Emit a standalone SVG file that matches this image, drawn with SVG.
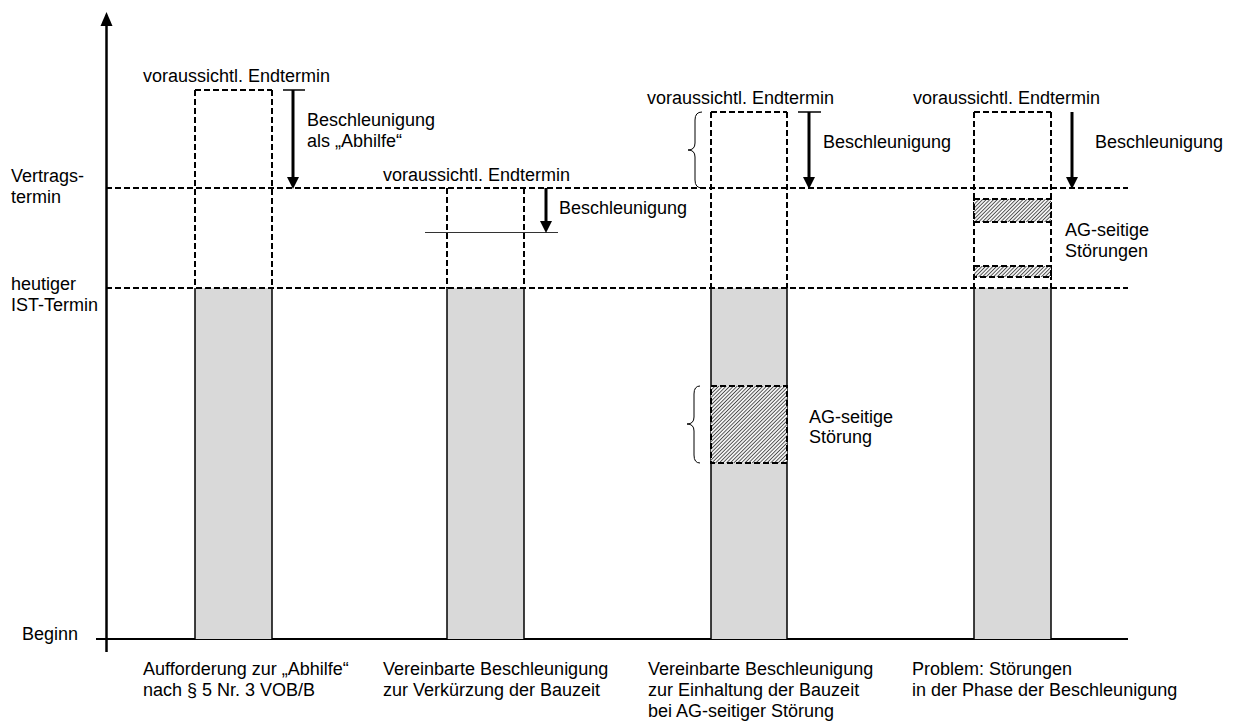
<svg xmlns="http://www.w3.org/2000/svg" width="1236" height="722" viewBox="0 0 1236 722">
<defs>
<pattern id="hatch" patternUnits="userSpaceOnUse" width="2.6" height="2.6" patternTransform="rotate(-45)">
<rect width="2.6" height="2.6" fill="#f2f2f2"/>
<line x1="0" y1="1.3" x2="2.6" y2="1.3" stroke="#4a4a4a" stroke-width="0.9"/>
</pattern>
</defs>
<style>
text{font-family:"Liberation Sans",Arial,sans-serif;font-size:18px;fill:#000}
.dash{stroke:#000;stroke-width:2;stroke-dasharray:6 3;fill:none}
.bar{fill:#d9d9d9;stroke:none}
.side{stroke:#000;stroke-width:1.5}
.arr{stroke:#000;stroke-width:3}
.head{fill:#000}
.tick{stroke:#000;stroke-width:1.5}
.brace{stroke:#000;stroke-width:1;fill:none}
.hat{fill:url(#hatch)}
</style>
<rect width="1236" height="722" fill="#fff"/>

<g id="axes">
<line x1="106.5" y1="652" x2="106.5" y2="24" stroke="#000" stroke-width="2.5"/>
<polygon points="106.5,12 100.5,26 112.5,26" fill="#000"/>
<line x1="96" y1="639" x2="1128" y2="639" stroke="#000" stroke-width="2"/>
<text x="11" y="182">Vertrags-</text>
<text x="11" y="203">termin</text>
<text x="11" y="290">heutiger</text>
<text x="11" y="311">IST-Termin</text>
<text x="22" y="640">Beginn</text>
</g>

<g id="col1">
<rect class="bar" x="195" y="288" width="77" height="351"/>
<line class="side" x1="195" y1="288" x2="195" y2="639"/>
<line class="side" x1="272" y1="288" x2="272" y2="639"/>
<line class="dash" x1="195" y1="90" x2="272" y2="90"/>
<line class="dash" x1="195" y1="90" x2="195" y2="288"/>
<line class="dash" x1="272" y1="90" x2="272" y2="288"/>
<text x="143" y="82">voraussichtl. Endtermin</text>
<text x="307" y="126">Beschleunigung</text>
<text x="307" y="147">als „Abhilfe“</text>
<text x="143" y="675">Aufforderung zur „Abhilfe“</text>
<text x="143" y="696">nach § 5 Nr. 3 VOB/B</text>
</g>

<g id="col2">
<rect class="bar" x="447" y="288" width="77" height="351"/>
<line class="side" x1="447" y1="288" x2="447" y2="639"/>
<line class="side" x1="524" y1="288" x2="524" y2="639"/>
<line class="dash" x1="447" y1="188" x2="447" y2="288"/>
<line class="dash" x1="524" y1="188" x2="524" y2="288"/>
<text x="383" y="181">voraussichtl. Endtermin</text>
<text x="559" y="214">Beschleunigung</text>
<text x="383" y="675">Vereinbarte Beschleunigung</text>
<text x="383" y="696">zur Verkürzung der Bauzeit</text>
</g>

<g id="col3">
<rect class="bar" x="711" y="288" width="76" height="351"/>
<line class="side" x1="711" y1="288" x2="711" y2="639"/>
<line class="side" x1="787" y1="288" x2="787" y2="639"/>
<line class="dash" x1="711" y1="112" x2="787" y2="112"/>
<line class="dash" x1="711" y1="112" x2="711" y2="288"/>
<line class="dash" x1="787" y1="112" x2="787" y2="288"/>
<rect class="hat" x="711" y="386" width="76" height="77"/>
<rect class="dash" x="711" y="386" width="76" height="77"/>
<path class="brace" d="M702,112 Q695,112 695,120 L695,143 Q695,150 688,150 Q695,150 695,157 L695,180 Q695,188 702,188"/>
<path class="brace" d="M700,386 Q694,386 694,394 L694,417 Q694,424 687,424 Q694,424 694,431 L694,455 Q694,463 700,463"/>
<text x="647" y="104">voraussichtl. Endtermin</text>
<text x="823" y="148">Beschleunigung</text>
<text x="809" y="423">AG-seitige</text>
<text x="809" y="443">Störung</text>
<text x="648" y="675">Vereinbarte Beschleunigung</text>
<text x="648" y="696">zur Einhaltung der Bauzeit</text>
<text x="648" y="717">bei AG-seitiger Störung</text>
</g>

<g id="col4">
<rect class="bar" x="974" y="288" width="77" height="351"/>
<line class="side" x1="974" y1="288" x2="974" y2="639"/>
<line class="side" x1="1051" y1="288" x2="1051" y2="639"/>
<line class="dash" x1="974" y1="112" x2="1051" y2="112"/>
<line class="dash" x1="974" y1="112" x2="974" y2="288"/>
<line class="dash" x1="1051" y1="112" x2="1051" y2="288"/>
<rect class="hat" x="974" y="199" width="77" height="23"/>
<rect class="dash" x="974" y="199" width="77" height="23"/>
<rect class="hat" x="974" y="266" width="77" height="11"/>
<rect class="dash" x="974" y="266" width="77" height="11"/>
<text x="913" y="104">voraussichtl. Endtermin</text>
<text x="1095" y="148">Beschleunigung</text>
<text x="1065" y="236">AG-seitige</text>
<text x="1065" y="257">Störungen</text>
<text x="912" y="675">Problem: Störungen</text>
<text x="912" y="696">in der Phase der Beschleunigung</text>
</g>

<g id="connectors">
<line class="dash" x1="106" y1="188" x2="1128" y2="188"/>
<line class="dash" x1="106" y1="288" x2="1128" y2="288"/>
<line x1="425" y1="232.5" x2="558" y2="232.5" stroke="#333" stroke-width="1"/>
<line class="tick" x1="283" y1="90" x2="305" y2="90"/>
<line class="arr" x1="293" y1="90" x2="293" y2="178"/>
<polygon class="head" points="287,177 299,177 293,189"/>
<line class="arr" x1="546" y1="188" x2="546" y2="222"/>
<polygon class="head" points="540,221 552,221 546,233"/>
<line class="tick" x1="798" y1="112" x2="821" y2="112"/>
<line class="arr" x1="809" y1="112" x2="809" y2="178"/>
<polygon class="head" points="803,177 815,177 809,189"/>
<line class="arr" x1="1072" y1="112" x2="1072" y2="178"/>
<polygon class="head" points="1066,177 1078,177 1072,189"/>
</g>
</svg>
